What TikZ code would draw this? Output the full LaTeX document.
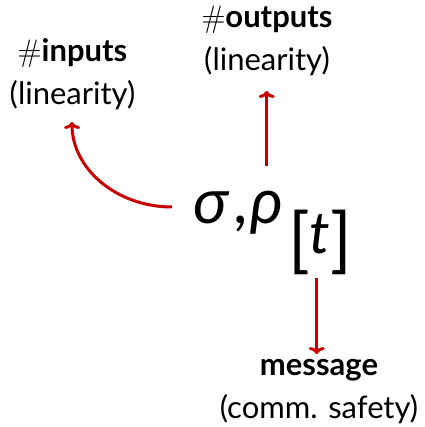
\documentclass[tikz,border=0pt]{standalone}
\usepackage{fontspec}
\setmainfont{Lato}
\newfontfamily\lmr{Latin Modern Roman}
\usetikzlibrary{arrows.meta}
\definecolor{arrred}{RGB}{200,0,0}
\tikzset{
  lbl/.style={font=\fontsize{31}{43}\selectfont, align=center, inner sep=0pt},
  big/.style={font=\fontsize{63}{70}\selectfont, inner sep=0pt, anchor=base west},
  conn/.style={draw=arrred, line width=3pt, -{To[length=7pt,width=16pt,line width=3pt]}}
}
\newcommand{\bigbr}[1]{\raisebox{-11pt}{\fontsize{71}{80}\selectfont #1}}
\begin{document}
\begin{tikzpicture}[x=1pt,y=-1pt]
\useasboundingbox (0,0) rectangle (424,427);
% labels (anchor base = baseline of last line)
\node[lbl, anchor=base] (inp) at (72.5,105) {{\lmr\#}\textbf{inputs}\\(linearity)};
\node[lbl, anchor=base] (outp) at (267,71) {{\lmr\#}\textbf{outputs}\\(linearity)};
\node[lbl, anchor=base] (msg) at (319,418) {\textbf{message}\\(comm. safety)};
% sigma rho
\node[big] (sr) at (193,223) {\itshape σ\hspace{5pt}\upshape,\hspace{3pt}\itshape ρ};
\node[big, font=\fontsize{58}{70}\selectfont] (sub) at (288,253) {\bigbr{[}\textit{t}\bigbr{]}};
% connector ends
\coordinate (c1s) at (172,207);
\coordinate (c1e) at (72,122);
\coordinate (c2s) at (266.7,166);
\coordinate (c2e) at (266.7,91);
\coordinate (c3s) at (316.7,278);
\coordinate (c3e) at (316.7,354);
\draw[conn] (c1s) .. controls (116.8,207) and (72,168.9) .. (c1e);
\draw[conn] (c2s) -- (c2e);
\draw[conn] (c3s) -- (c3e);
\end{tikzpicture}
\end{document}
